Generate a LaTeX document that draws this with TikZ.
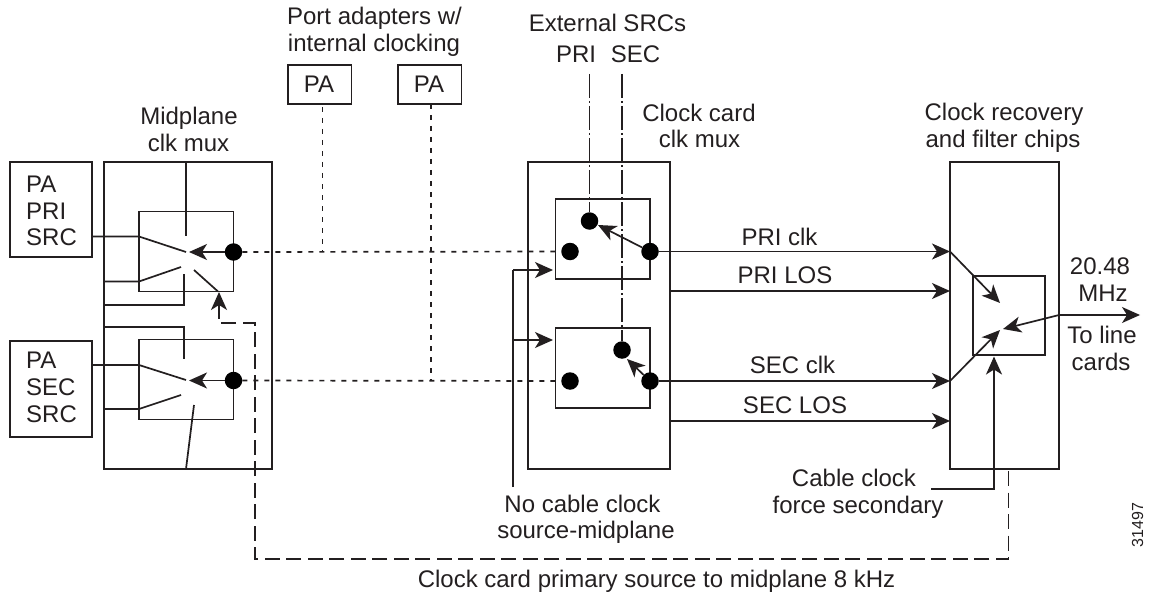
\documentclass[tikz,border=0pt]{standalone}
\usepackage{fontspec}
\setmainfont{Liberation Sans}
\usetikzlibrary{arrows.meta}
\definecolor{ink}{HTML}{231F20}
\tikzset{
 wire/.style={draw=ink,line width=1.7pt},
 arr/.style={wire,-{Stealth[length=18pt,width=16pt,inset=5pt]}},
 dash1/.style={wire,dash pattern=on 5pt off 6pt},
 dash2/.style={wire,dash pattern=on 15pt off 6.5pt,line width=1.9pt},
 dashdot/.style={wire,dash pattern=on 24pt off 3pt on 2pt off 3pt},
 box/.style={draw=ink,line width=1.7pt,fill=white,inner sep=0pt,rectangle},
 dotn/.style={circle,fill=black,inner sep=0pt,minimum size=17.5pt},
 lbl/.style={inner sep=0pt,anchor=base,text=ink,font=\fontsize{24}{28}\selectfont},
 lbll/.style={lbl,anchor=base west}
}
\newcommand{\boxat}[5]{\node[box,minimum width=#4pt-#2pt,minimum height=#5pt-#3pt] (#1) at ({(#2+#4)/2},{(#3+#5)/2}) {};}
\begin{document}
\begin{tikzpicture}[x=1pt,y=-1pt]
\useasboundingbox (0,0) rectangle (1155,596);
% outer boxes
\boxat{papri}{10}{162}{92}{257}
\boxat{pasec}{10}{341}{92}{437}
\boxat{mid}{104}{162}{272}{469}
\boxat{clk}{528}{162}{670}{469}
\boxat{rec}{950}{162}{1059}{469}
\boxat{m1}{139}{211.5}{233.5}{291.5}
\boxat{m2}{139}{339.5}{233.5}{419.5}
\boxat{c1}{555.5}{199}{650}{279}
\boxat{c2}{555.5}{328}{650}{408}
\boxat{r1}{973}{276}{1045}{355}
\boxat{pa1}{288}{65}{351.5}{104}
\boxat{pa2}{398}{65}{461.5}{104}
% coordinates
\coordinate (j1) at (322.5,107);
\coordinate (j1b) at (322.5,252);
\coordinate (j2) at (431,104);
\coordinate (j2b) at (431,380.5);
\coordinate (e1) at (589.5,74);
\coordinate (e2) at (622,74);
\coordinate (nc0) at (513,487);
\coordinate (nc1) at (513,270);
\coordinate (nc2) at (513,340);
\coordinate (nc1e) at (553,270);
\coordinate (nc2e) at (553,340);
% dots
\node[dotn] (dm1) at (233.5,252) {};
\node[dotn] (dm2) at (233.5,380.5) {};
\node[dotn] (d11) at (589.5,221) {};
\node[dotn] (d12) at (570,251.5) {};
\node[dotn] (d13) at (650,251.5) {};
\node[dotn] (d21) at (622,350) {};
\node[dotn] (d22) at (570,381) {};
\node[dotn] (d23) at (650,381) {};
% midplane switch 1
\coordinate (a1) at (189,252);
\draw[arr] (dm1) -- (a1);
\draw[wire] (92,236.5) -- (139,236.5) -- (186,252);
\draw[wire] (104,281.5) -- (139,281.5) -- (181,267);
\draw[wire] (186,162) -- (186,236);
\draw[wire] (104,305) -- (184,305) -- (184,274);
\draw[wire] (194,270) -- (218,291.5);
% midplane switch 2
\coordinate (a2) at (189,380.5);
\draw[arr] (dm2) -- (a2);
\draw[wire] (92,365) -- (139,365) -- (186,380);
\draw[wire] (104,409) -- (139,409) -- (181,395);
\draw[wire] (104,327) -- (184,327) -- (184,359);
\draw[wire] (194,405) -- (186,469);
% dashed PA lines
\draw[dash1] (j1) -- (j1b);
\draw[dash1] (j2) -- (j2b);
\draw[dash1] (dm1) -- (d12);
\draw[dash1] (dm2) -- (d22);
% 8 kHz dashed
\coordinate (k0) at (1008.5,471);
\coordinate (k1) at (1008.5,559);
\coordinate (k2) at (255,559);
\coordinate (k3) at (255,323);
\coordinate (k4) at (219,323);
\coordinate (k5) at (219,292);
\draw[dash2] (k0) -- (k1) -- (k2) -- (k3) -- (k4) -- (219,305);
\draw[arr] (219,312) -- (k5);
% external
\draw[dashdot] (e1) -- (d11);
\draw[dashdot] (e2) -- (d21);
% clock card switches
\draw[arr] (d13) -- (598,225);
\draw[arr] (d23) -- (627,359);
\draw[wire] (nc0) -- (nc1);
\draw[arr] (nc1) -- (nc1e);
\draw[arr] (nc2) -- (nc2e);
% signals
\coordinate (p1) at (950,251.5);
\coordinate (p2) at (950,291);
\coordinate (p3) at (950,381);
\coordinate (p4) at (950,421);
\draw[arr] (d13) -- (p1);
\draw[arr] (670,291) -- (p2);
\draw[arr] (d23) -- (p3);
\draw[arr] (670,421) -- (p4);
% recovery
\draw[arr] (p1) -- (1000,303);
\draw[arr] (p3) -- (1000,330);
\coordinate (o0) at (1059,315);
\coordinate (o1) at (1140,315);
\draw[arr] (o0) -- (1003,329);
\draw[arr] (o0) -- (o1);
\coordinate (cc0) at (931,489);
\coordinate (cc1) at (994,489);
\coordinate (cc2) at (994,356.5);
\draw[arr] (cc0) -- (cc1) -- (cc2);
% labels
\node[lbl] (t1) at (374.5,25) {Port adapters w/};
\node[lbl] (t2) at (374,52) {internal clocking};
\node[lbl] (t3) at (319,93) {PA};
\node[lbl] (t4) at (429,93) {PA};
\node[lbl] (t5) at (189,125) {Midplane};
\node[lbl] (t6) at (188.5,152) {clk mux};
\node[lbl] (t7) at (607.5,32) {External SRCs};
\node[lbl] (t8) at (576,63) {PRI};
\node[lbl] (t9) at (635.5,63) {SEC};
\node[lbl] (t10) at (699,122) {Clock card};
\node[lbl] (t11) at (699.5,148) {clk mux};
\node[lbl] (t12) at (1004,121) {Clock recovery};
\node[lbl] (t13) at (1003,148) {and filter chips};
\node[lbll] (t14) at (26,192) {PA};
\node[lbll] (t15) at (26,219) {PRI};
\node[lbll] (t16) at (26,245) {SRC};
\node[lbll] (t17) at (26,368) {PA};
\node[lbll] (t18) at (26,395) {SEC};
\node[lbll] (t19) at (26,422) {SRC};
\node[lbl] (t20) at (779.5,245) {PRI clk};
\node[lbl] (t21) at (785,283) {PRI LOS};
\node[lbl] (t22) at (792.5,373) {SEC clk};
\node[lbl] (t23) at (795,413) {SEC LOS};
\node[lbl] (t24) at (1100,274) {20.48};
\node[lbl] (t25) at (1103,301) {MHz};
\node[lbl] (t26) at (1102,343) {To line};
\node[lbl] (t27) at (1101,370) {cards};
\node[lbl] (t28) at (854,486) {Cable clock};
\node[lbl] (t29) at (858,513) {force secondary};
\node[lbl] (t30) at (582.5,512) {No cable clock};
\node[lbl] (t31) at (586,538) {source-midplane};
\node[lbl] (t32) at (656.5,587) {Clock card primary source to midplane 8 kHz};
\node[lbl,anchor=base,rotate=90,font=\fontsize{16}{20}\selectfont] (t33) at (1143,525) {31497};
\end{tikzpicture}
\end{document}
